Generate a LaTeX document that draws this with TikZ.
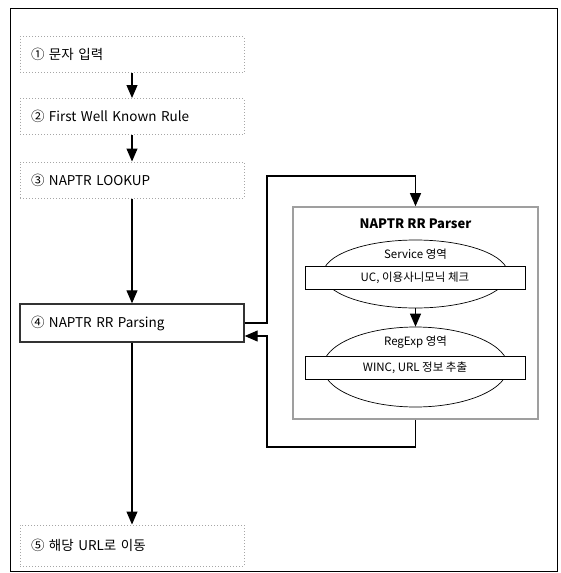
\documentclass[tikz,border=0pt]{standalone}
\usepackage{fontspec}
\setmainfont{Noto Sans CJK KR}
\usetikzlibrary{arrows.meta,shapes.geometric}

\begin{document}
\begin{tikzpicture}[x=1pt, y=-1pt,
    stepbox/.style={draw=gray!70, dotted, line width=1pt, minimum width=224pt, minimum height=36pt,
        text width=202pt, align=left, inner xsep=11pt, font=\fontsize{13.5}{15}\selectfont},
    mainbox/.style={stepbox, draw=black!80, solid, line width=1.4pt},
    region/.style={ellipse, draw, line width=0.7pt, minimum width=185pt, inner sep=0pt},
    checkbox/.style={draw, fill=white, line width=0.7pt, minimum width=220pt, minimum height=23pt,
        inner sep=0pt, font=\fontsize{11.5}{13}\selectfont},
    flow/.style={-{Triangle[width=11pt,length=13pt]}, line width=1.1pt}]
    \useasboundingbox (0,0) rectangle (560,573);

    % Outer frame
    \draw[line width=0.9pt] (10,8) rectangle (557,571);

    % Steps
    \node[stepbox] (input) at (132,54.5) {① 문자 입력};
    \node[stepbox] (rule) at (132,116.5) {② First Well Known Rule};
    \node[stepbox] (lookup) at (132,180) {③ NAPTR LOOKUP};
    \node[mainbox, minimum height=38pt] (parse) at (132,323) {④ NAPTR RR Parsing};
    \node[stepbox, minimum height=41pt] (move) at (132,545.5) {⑤ 해당 URL로 이동};

    % Parser block
    \node[draw=gray!75, line width=1.6pt, minimum width=245pt, minimum height=212pt] (parser) at (415.5,313) {};
    \node[font=\bfseries\fontsize{13}{15}\selectfont] (title) at (415.5,224) {NAPTR RR Parser};

    \node[region, minimum height=68pt] (svc) at (415.5,274) {};
    \node[region, minimum height=80pt] (regexp) at (415.5,367) {};
    \node[font=\fontsize{11.5}{13}\selectfont] (svclabel) at (415.5,254) {Service 영역};
    \node[font=\fontsize{11.5}{13}\selectfont] (relabel) at (415.5,342) {RegExp 영역};
    \node[checkbox] (uc) at (415,277.5) {UC, 이용사니모닉 체크};
    \node[checkbox] (winc) at (415,368) {WINC, URL 정보 추출};

    % Main flow
    \draw[flow] (input) -- (rule);
    \draw[flow] (rule) -- (lookup);
    \draw[flow] (lookup) -- (parse);
    \draw[flow] (parse) -- (move);
    \draw[flow] (svc) -- (regexp);

    % Loop to the parser and back
    \coordinate (loopx) at (267,0);
    \coordinate (looptop) at (415.5,176);
    \coordinate (loopbot) at (415.5,447);
    \coordinate (back) at ([yshift=-13pt]parse.east);
    \draw[flow] (parse.east) -- (parse.east -| loopx) |- (looptop) -- (parser.north);
    \draw[flow] (parser.south) -- (loopbot) -| (loopx |- back) -- (back);
\end{tikzpicture}
\end{document}
